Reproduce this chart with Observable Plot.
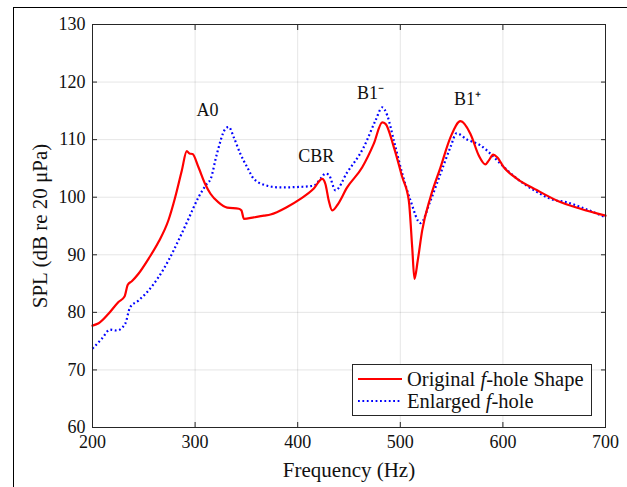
<!DOCTYPE html>
<html>
<head>
<meta charset="utf-8">
<script src="https://cdn.jsdelivr.net/npm/d3@7"></script>
<script src="https://cdn.jsdelivr.net/npm/@observablehq/plot@0.6"></script>
<style>
  html, body { margin: 0; padding: 0; background: #fff; overflow: hidden; }
  #wrap { position: relative; width: 627px; height: 487px; }
  #border { position: absolute; left: 13px; top: 7px; width: 800px; height: 800px;
            border-left: 1px solid #000; border-top: 1px solid #000; pointer-events: none; }
  #legend { position: absolute; left: 352px; top: 364px; width: 238px; height: 50px;
            border: 1px solid #262626; background: #fff; font-family: "Liberation Serif", serif;
            font-size: 20.5px; color: #111; }
  .row { position: absolute; left: 0; height: 22px; display: flex; align-items: center; white-space: nowrap; }
  .row svg { margin-left: 4px; margin-right: 4px; }
</style>
</head>
<body>
<div id="wrap">
  <div id="chart"></div>
  <div id="border"></div>
  <div id="legend"></div>
</div>
<script>
// Original f-hole shape (red, solid)
const redFreq = [200, 206, 215.6, 225.3, 231.2, 234.4, 238.3, 244.8, 254.6, 264.3, 274, 280.6, 287, 291.9, 294.5, 297.5, 303.3, 309.8, 315, 322.8, 331.3, 342.6, 345.2, 347.5, 357.2, 367, 373.5, 389.7, 402.7, 415.7, 423.9, 427, 430.3, 433.6, 438.5, 448.2, 462.9, 474.2, 482.4, 485.6, 493.7, 501.9, 508.3, 511.6, 513.8, 517, 521.3, 529.4, 539.2, 548.9, 558.7, 568.4, 576.5, 583, 586.3, 590.5, 594.4, 600.9, 613.9, 633.4, 652.9, 675.6, 700];
const redSPL = [77.7, 78.1, 79.75, 81.8, 82.75, 84.8, 85.4, 86.7, 89.3, 92.2, 96.0, 100.0, 104.6, 108.0, 107.6, 107.5, 105.2, 102.3, 100.6, 99.1, 98.2, 98.0, 97.7, 96.25, 96.5, 96.8, 97.0, 98.3, 99.7, 101.5, 103.2, 102.3, 99.4, 97.7, 98.6, 101.7, 105.2, 109.3, 113.0, 112.75, 108.7, 103.5, 99.4, 91.3, 85.8, 89.0, 94.2, 100.0, 105.2, 110.4, 113.2, 111.0, 107.25, 105.7, 106.4, 107.4, 106.95, 105.2, 103.2, 101.2, 99.4, 98.0, 96.8];

// Enlarged f-hole (blue, dotted)
const blueFreq = [200, 209, 217.2, 223.7, 231.8, 236.7, 244.8, 254.6, 264.3, 274, 283.8, 293.6, 303.3, 311.4, 315, 321.2, 329.6, 332.8, 337.7, 344.2, 350.8, 357.2, 370.3, 383.2, 402.7, 415.7, 422.2, 427, 430.3, 436.8, 448.2, 464.4, 475.8, 482.4, 487.3, 493.7, 501.9, 510, 519.7, 529.4, 539.2, 548.9, 554.8, 565.2, 578.2, 589.6, 597.7, 613.9, 633.4, 646.4, 662.7, 675.6, 700];
const blueSPL = [73.7, 75.4, 77.0, 76.85, 78.0, 80.9, 82.05, 83.8, 86.1, 89.0, 92.5, 96.25, 100.0, 102.3, 103.1, 107.5, 111.9, 112.2, 110.4, 107.5, 105.2, 103.2, 102.0, 101.7, 101.8, 102.0, 103.2, 104.1, 103.9, 101.2, 104.3, 108.7, 113.3, 115.6, 114.2, 109.85, 104.1, 99.4, 95.5, 99.4, 104.1, 108.7, 111.1, 110.0, 109.0, 107.25, 105.8, 103.2, 100.9, 99.7, 99.1, 98.3, 96.5];

// Peak annotations
const noteText = ["A0", "CBR", "B1\u207B", "B1\u207A"];
const noteFreq = [312, 418, 471, 565.5];
const noteSPL = [115.1, 107.1, 118.0, 117.1];

const xTicks = [200, 300, 400, 500, 600, 700];
const yTicks = [60, 70, 80, 90, 100, 110, 120, 130];
const seriesNames = ["Original \u0192-hole Shape", "Enlarged \u0192-hole"];

const red = redFreq.map((f, i) => ({f, v: redSPL[i]}));
const blue = blueFreq.map((f, i) => ({f, v: blueSPL[i]}));
const notes = noteText.map((t, i) => ({t, f: noteFreq[i], v: noteSPL[i]}));

const serif = "'Liberation Serif', serif";
const ink = "#262626";
const chart = Plot.plot({
  width: 627,
  height: 487,
  marginLeft: 92,
  marginRight: 22,
  marginTop: 24,
  marginBottom: 60,
  style: {fontFamily: serif, fontSize: "18px", color: ink, background: "#fff"},
  x: {domain: [200, 700]},
  y: {domain: [60, 130]},
  marks: [
    Plot.gridX(xTicks, {stroke: "#000", strokeOpacity: 0.1}),
    Plot.gridY(yTicks, {stroke: "#000", strokeOpacity: 0.1}),
    Plot.line(blue, {x: "f", y: "v", stroke: "#0000ff", strokeWidth: 2.2, strokeDasharray: "1.8,2.6", strokeLinecap: "butt", curve: "monotone-x"}),
    Plot.line(red, {x: "f", y: "v", stroke: "#ff0000", strokeWidth: 2.2, curve: "monotone-x"}),
    Plot.text(notes, {x: "f", y: "v", text: "t", fontSize: 18, fill: "#111"}),
    Plot.frame({stroke: ink}),
    Plot.axisX(xTicks, {anchor: "bottom", tickSize: -5, tickPadding: 13, label: "Frequency (Hz)", labelAnchor: "center", labelOffset: 49, labelArrow: "none", fontSize: 18, fill: "#111"}),
    Plot.axisX(xTicks, {anchor: "top", tickSize: -5, tickFormat: () => "", label: null}),
    Plot.axisY(yTicks, {anchor: "left", tickSize: -5, tickPadding: 12, label: "SPL (dB re 20 \u03BCPa)", labelAnchor: "center", labelOffset: 60, labelArrow: "none", fontSize: 18, fill: "#111"}),
    Plot.axisY(yTicks, {anchor: "right", tickSize: -5, tickFormat: () => "", label: null})
  ]
});
document.getElementById("chart").appendChild(chart);

// Serif font on every text node, larger axis titles
d3.select(chart).selectAll("text").style("font-family", serif);
d3.select(chart).selectAll('g[aria-label="x-axis label"] text, g[aria-label="y-axis label"] text').style("font-size", "21px");

// Legend
const legend = document.getElementById("legend");
const styles = [
  {stroke: "#ff0000", dash: null},
  {stroke: "#0000ff", dash: "1.8,2.6"}
];
seriesNames.forEach((name, i) => {
  const row = document.createElement("div");
  row.className = "row";
  row.style.top = (3 + i * 22) + "px";
  const s = styles[i];
  row.innerHTML = `<svg width="46" height="10"><line x1="1" y1="5" x2="45" y2="5" stroke="${s.stroke}" stroke-width="2.2" ${s.dash ? `stroke-dasharray="${s.dash}"` : ""}/></svg><span>${name.replace("\u0192", "<i>f</i>")}</span>`;
  legend.appendChild(row);
});
</script>
</body>
</html>
